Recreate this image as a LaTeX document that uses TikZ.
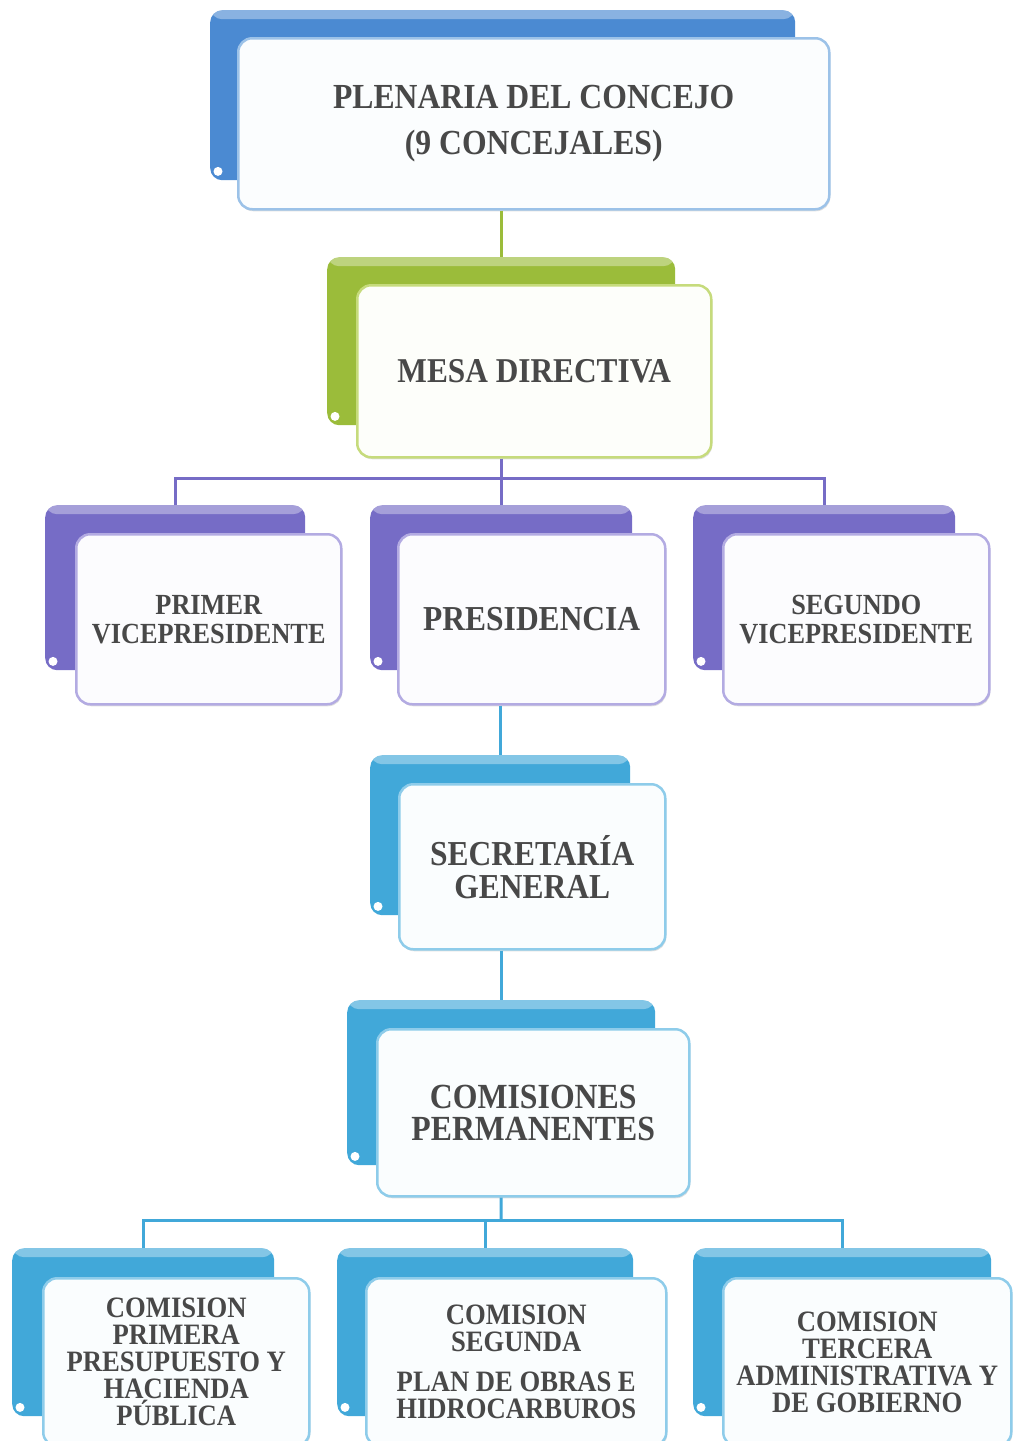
\documentclass[tikz,border=0pt]{standalone}
\usepackage{fontspec}
\setmainfont{Liberation Serif}[FakeStretch=0.9]
\usetikzlibrary{positioning,shadows}

\definecolor{plenoblue}{HTML}{4B8AD2}
\definecolor{plenoline}{HTML}{9CC2E8}
\definecolor{mesagreen}{HTML}{9BBC3A}
\definecolor{mesaline}{HTML}{C6DB7C}
\definecolor{vicepurple}{HTML}{766CC6}
\definecolor{viceline}{HTML}{B3ABE2}
\definecolor{comcyan}{HTML}{41A8D9}
\definecolor{comline}{HTML}{8ECCEA}
\definecolor{cardtext}{HTML}{484848}

\tikzstyle{backtab}=[rectangle,
    rounded corners=12pt,
    anchor=north west,
    fill=#1,
    path picture={\fill[white,opacity=0.35] (path picture bounding box.north west)
        rectangle ([yshift=-9pt]path picture bounding box.north east);}]
\tikzstyle{frontcard}=[rectangle,
    rounded corners=14pt,
    anchor=north west,
    line width=2.5pt,
    draw=#1,
    fill=white!96!#1,
    align=center,
    text=cardtext,
    drop shadow={opacity=0.25,shadow xshift=1pt,shadow yshift=-2pt}]
\tikzstyle{conn}=[line width=3pt,draw=#1]
\tikzstyle{hole}=[fill=white]

\begin{document}
\begin{tikzpicture}[x=1pt,y=-1pt,font=\bfseries]
    \useasboundingbox (0,0) rectangle (1013,1441);

    % Plenaria
    \node (plenariaTab) [backtab=plenoblue,minimum width=585pt,minimum height=170pt] at (210,10) {};
    \fill[hole] ([xshift=8pt,yshift=9pt]plenariaTab.south west) circle (4.5pt);
    \node (plenaria) [frontcard=plenoline,minimum width=591pt,minimum height=171pt,
        font=\bfseries\fontsize{35.2}{46}\selectfont] at (237,37)
        {PLENARIA DEL CONCEJO\\(9 CONCEJALES)};

    % Mesa directiva
    \node (mesaTab) [backtab=mesagreen,minimum width=348pt,minimum height=168pt] at (327,257) {};
    \fill[hole] ([xshift=8pt,yshift=9pt]mesaTab.south west) circle (4.5pt);
    \node (mesa) [frontcard=mesaline,minimum width=354pt,minimum height=172pt,
        font=\bfseries\fontsize{34.8}{40}\selectfont] at (356,284)
        {MESA DIRECTIVA};

    % Fila de la mesa
    \node (primerTab) [backtab=vicepurple,minimum width=260pt,minimum height=165pt] at (45,505) {};
    \fill[hole] ([xshift=8pt,yshift=9pt]primerTab.south west) circle (4.5pt);
    \node (primer) [frontcard=viceline,minimum width=265pt,minimum height=170pt,
        font=\bfseries\fontsize{29.2}{29}\selectfont] at (75,533)
        {PRIMER\\VICEPRESIDENTE};

    \node (presTab) [backtab=vicepurple,minimum width=262pt,minimum height=165pt] at (370,505) {};
    \fill[hole] ([xshift=8pt,yshift=9pt]presTab.south west) circle (4.5pt);
    \node (pres) [frontcard=viceline,minimum width=267pt,minimum height=170pt,
        font=\bfseries\fontsize{35}{40}\selectfont] at (397,533)
        {PRESIDENCIA};

    \node (segundoTab) [backtab=vicepurple,minimum width=262pt,minimum height=165pt] at (693,505) {};
    \fill[hole] ([xshift=8pt,yshift=9pt]segundoTab.south west) circle (4.5pt);
    \node (segundo) [frontcard=viceline,minimum width=266pt,minimum height=170pt,
        font=\bfseries\fontsize{29.2}{29}\selectfont] at (722,533)
        {SEGUNDO\\VICEPRESIDENTE};

    % Secretaria general
    \node (secTab) [backtab=comcyan,minimum width=260pt,minimum height=160pt] at (370,755) {};
    \fill[hole] ([xshift=8pt,yshift=9pt]secTab.south west) circle (4.5pt);
    \node (sec) [frontcard=comline,minimum width=266pt,minimum height=165pt,
        font=\bfseries\fontsize{35}{33}\selectfont] at (398,783)
        {SECRETARÍA\\GENERAL};

    % Comisiones permanentes
    \node (comTab) [backtab=comcyan,minimum width=308pt,minimum height=165pt] at (347,1000) {};
    \fill[hole] ([xshift=8pt,yshift=9pt]comTab.south west) circle (4.5pt);
    \node (com) [frontcard=comline,minimum width=312pt,minimum height=167pt,
        font=\bfseries\fontsize{35.3}{32}\selectfont] at (376,1028)
        {COMISIONES\\PERMANENTES};

    % Las tres comisiones
    \node (primeraTab) [backtab=comcyan,minimum width=262pt,minimum height=168pt] at (12,1248) {};
    \fill[hole] ([xshift=8pt,yshift=9pt]primeraTab.south west) circle (4.5pt);
    \node (primera) [frontcard=comline,minimum width=266pt,minimum height=168pt,
        font=\bfseries\fontsize{29.6}{27}\selectfont] at (42,1277)
        {COMISION\\PRIMERA\\PRESUPUESTO Y\\HACIENDA\\PÚBLICA};

    \node (segundaTab) [backtab=comcyan,minimum width=296pt,minimum height=168pt] at (337,1248) {};
    \fill[hole] ([xshift=8pt,yshift=9pt]segundaTab.south west) circle (4.5pt);
    \node (segunda) [frontcard=comline,minimum width=300pt,minimum height=168pt,
        font=\bfseries\fontsize{29.6}{27}\selectfont] at (365,1277)
        {COMISION\\SEGUNDA\\[13pt]PLAN DE OBRAS E\\HIDROCARBUROS};

    \node (terceraTab) [backtab=comcyan,minimum width=298pt,minimum height=168pt] at (693,1248) {};
    \fill[hole] ([xshift=8pt,yshift=9pt]terceraTab.south west) circle (4.5pt);
    \node (tercera) [frontcard=comline,minimum width=288pt,minimum height=168pt,
        font=\bfseries\fontsize{29.6}{27}\selectfont] at (722,1277)
        {COMISION\\TERCERA\\ADMINISTRATIVA Y\\DE GOBIERNO};

    % conectores
    \coordinate (mesaJoin) at (501,478);
    \coordinate (comJoin) at (501,1220);
    \draw[conn=mesagreen] (mesaTab.north |- plenaria.south) -- (mesaTab.north);
    \draw[conn=vicepurple] (mesaTab.north |- mesa.south) -- (presTab.north);
    \draw[conn=vicepurple] (primerTab.north) -- (primerTab.north |- mesaJoin)
        -- (segundoTab.north |- mesaJoin) -- (segundoTab.north);
    \draw[conn=comcyan] (secTab.north |- pres.south) -- (secTab.north);
    \draw[conn=comcyan] (comTab.north |- sec.south) -- (comTab.north);
    \draw[conn=comcyan] (comTab.north |- com.south) -- (comJoin);
    \draw[conn=comcyan] (primeraTab.north) -- (primeraTab.north |- comJoin)
        -- (terceraTab.north |- comJoin) -- (terceraTab.north);
    \draw[conn=comcyan] (segundaTab.north |- comJoin) -- (segundaTab.north);
\end{tikzpicture}
\end{document}
